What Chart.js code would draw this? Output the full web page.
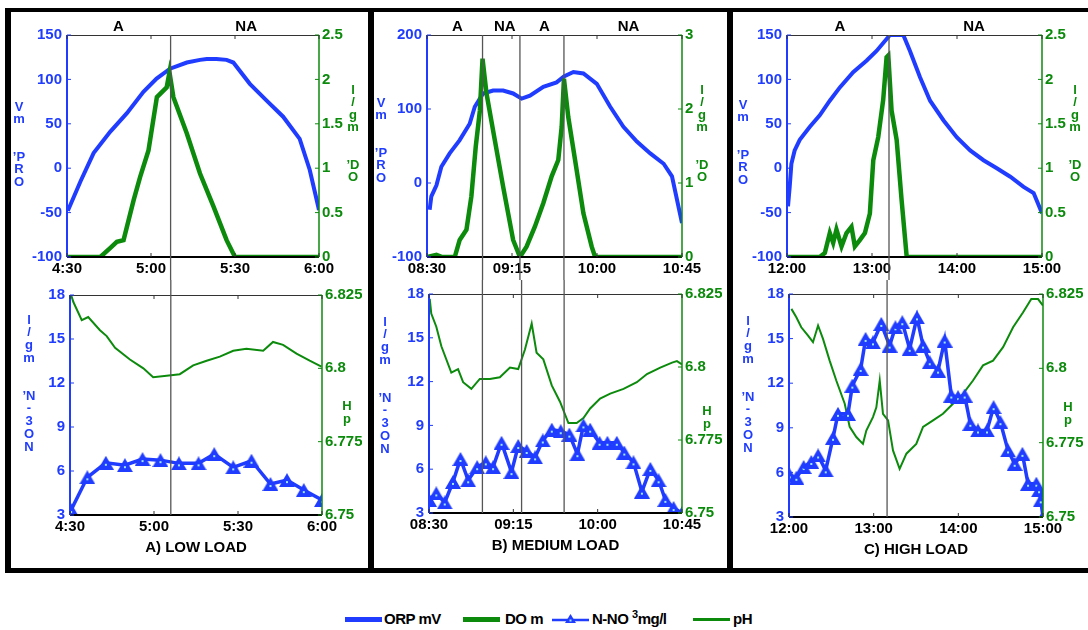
<!DOCTYPE html>
<html>
<head>
<meta charset="utf-8">
<script src="https://cdn.jsdelivr.net/npm/chart.js@4.4.1/dist/chart.umd.min.js"></script>
<style>
  body { margin: 0; width: 1088px; height: 630px; overflow: hidden; background: #fff; position: relative;
         font-family: "Liberation Sans", Arial, Helvetica, sans-serif; }
  .frame { position: absolute; left: 5px; top: 8px; width: 1100px; height: 565px; box-sizing: border-box;
           border: 6px solid #000; border-top-width: 4px; border-bottom-width: 5px; }
  .divider { position: absolute; top: 8px; width: 6px; height: 565px; background: #000; }
  canvas { position: absolute; }
  .lg { position: absolute; }
  .lgtxt { position: absolute; top: 610px; font-weight: bold; font-size: 15px; line-height: 18px;
           letter-spacing: -0.5px; color: #000; white-space: nowrap; }
  .lgtxt sup { font-size: 11px; vertical-align: 6px; line-height: 0; }
</style>
</head>
<body>
<div class="frame"></div>
<div class="divider" style="left:368px"></div>
<div class="divider" style="left:727px"></div>

<div class="lg" style="left:345px;top:617px;width:37px;height:5px;background:#1f3cff"></div>
<div class="lgtxt" style="left:384px">ORP mV</div>
<div class="lg" style="left:463px;top:617px;width:37px;height:5px;background:#0c8a0c"></div>
<div class="lgtxt" style="left:505px">DO m</div>
<svg class="lg" style="left:552px;top:612px" width="37" height="14">
  <line x1="0" y1="8" x2="37" y2="8" stroke="#1f3cff" stroke-width="2.5"/>
  <polygon points="18.5,2 24,11 13,11" fill="#1f3cff"/>
  <rect x="17.5" y="7.5" width="2" height="2" fill="#9fe8ff"/>
</svg>
<div class="lgtxt" style="left:592px">N-NO <sup>3</sup>mg/l</div>
<div class="lg" style="left:693px;top:618px;width:37px;height:2.5px;background:#0c8a0c"></div>
<div class="lgtxt" style="left:733px">pH</div>

<script>
const FONT = '"Liberation Sans", Arial, Helvetica, sans-serif';
const BLUE = '#1f3cff';
const GREEN = '#0c8a0c';
const YW = 40;

// ---------- axes ----------
const orpTicks = [-100, -50, 0, 50, 100, 150];
const orpTicksB = [-100, 0, 100, 200];
const doTicks = [0, 0.5, 1, 1.5, 2, 2.5];
const doTicksB = [0, 1, 2, 3];
const no3Ticks = [3, 6, 9, 12, 15, 18];
const phTicks = [6.75, 6.775, 6.8, 6.825];

// x in minutes from the start of each cycle
const xTicksA = [0, 30, 60, 90];
const xLabelsA = ['4:30', '5:00', '5:30', '6:00'];
const xTicksB = [0, 45, 90, 135];
const xLabelsB = ['08:30', '09:15', '10:00', '10:45'];
const xTicksC = [0, 60, 120, 180];
const xLabelsC = ['12:00', '13:00', '14:00', '15:00'];

// aerobic / non-aerobic phases
const phaseTextA = ['A', 'NA'];
const phaseTextPosA = [18.4, 64];
const phaseLinesA = [37];
const phaseLinesA2 = [36];
const phaseTextB = ['A', 'NA', 'A', 'NA'];
const phaseTextPosB = [16.1, 41.2, 62.1, 106.7];
const phaseLinesB = [29.4, 49.2, 72.5];
const phaseLinesB2 = [28.5, 49.4, 72.1];
const phaseTextC = ['A', 'NA'];
const phaseTextPosC = [37.3, 132];
const phaseLinesC = [72];
const phaseLinesC2 = [69.5];

// ---------- A) low load ----------
const orpA_t = [0.3, 4.8, 9.5, 15.4, 21.4, 27.3, 32, 36.8, 42.8, 47.5, 49.9, 53.4, 57, 59.4, 65.3, 71.3, 77.2, 83.1, 86.7, 90];
const orpA_v = [-48, -15, 17, 41, 62, 86, 101, 112, 119, 122, 123, 123, 122, 119, 95, 76, 58, 33, -2, -47];
const doA_t = [0, 11.9, 15.4, 17.8, 20.2, 23.8, 26.1, 29.1, 32.1, 35.6, 36.6, 38, 42.8, 47.5, 52.3, 57, 60, 90];
const doA_v = [0, 0, 0.1, 0.17, 0.19, 0.64, 0.9, 1.2, 1.8, 1.91, 2.08, 1.8, 1.39, 0.94, 0.57, 0.19, 0, 0];
const phA_t = [0.4, 1.2, 4.2, 6.5, 10.7, 13.1, 16.1, 21.4, 26.2, 29.7, 34.5, 39.2, 44, 48.8, 53.5, 58.3, 63, 69, 72.5, 76.1, 80.9, 85.6, 89.8];
const phA_v = [6.825, 6.8226, 6.8164, 6.8175, 6.813, 6.811, 6.807, 6.803, 6.8, 6.797, 6.7975, 6.798, 6.801, 6.8026, 6.804, 6.806, 6.8067, 6.806, 6.809, 6.808, 6.805, 6.8026, 6.8006];
const no3A_t = [0.4, 6.2, 12.8, 19.6, 25.9, 32.3, 38.9, 45.9, 51.5, 58.3, 64.8, 71.6, 77.5, 83.5, 90];
const no3A_v = [3.34, 5.57, 6.56, 6.4, 6.81, 6.74, 6.52, 6.52, 7.15, 6.25, 6.7, 5.11, 5.38, 4.7, 4.02];

// ---------- B) medium load ----------
const orpB_t = [1.4, 2.3, 5, 7.6, 12, 17.3, 22.6, 25.3, 29.7, 35, 40.3, 45.6, 50.1, 54.5, 61.6, 68.6, 72.5, 77.5, 82.8, 89.9, 97, 104, 111.1, 118.2, 125.3, 129.7, 135];
const orpB_v = [-36, -18, -3, 22, 40, 58, 80, 103, 121, 125, 125, 121, 114, 118, 130, 136, 144, 150, 148, 134, 103, 76, 56, 40, 26, 9, -54];
const doB_t = [0, 5, 8, 14.7, 17.3, 20.9, 23.5, 25.8, 28, 29.4, 31.5, 35.9, 40.3, 45.6, 49.2, 52.7, 57.1, 61.6, 66, 69.5, 71.3, 72.5, 74.8, 78.4, 82.8, 87.2, 89, 135];
const doB_v = [0, 0.03, 0, 0, 0.23, 0.37, 0.82, 1.49, 1.98, 2.68, 2.21, 1.58, 0.95, 0.23, 0, 0.14, 0.41, 0.73, 1.09, 1.31, 1.76, 2.41, 1.89, 1.31, 0.59, 0.14, 0, 0];
const phB_t = [0.4, 1.2, 3.9, 6.6, 11.9, 15.5, 18.2, 22.6, 27.1, 32.5, 37.8, 43.2, 47.6, 51.2, 54.8, 57.4, 61, 65.5, 69.9, 74.4, 78.8, 82.4, 86, 91.3, 96.7, 103.8, 110.9, 116.3, 123.4, 129.7, 132.3, 135];
const phB_v = [6.8233, 6.8183, 6.8138, 6.8071, 6.7981, 6.7993, 6.7948, 6.7925, 6.7959, 6.7959, 6.7965, 6.7998, 6.7993, 6.806, 6.8149, 6.8049, 6.8026, 6.7937, 6.7881, 6.7808, 6.7808, 6.7825, 6.7858, 6.7892, 6.7909, 6.7925, 6.7948, 6.7976, 6.7998, 6.8015, 6.802, 6.8009];
const no3B_t = [0, 3.9, 8.4, 12.8, 16.8, 20.9, 25.7, 30.3, 34.2, 38.7, 44, 47.6, 52.1, 56.6, 60.7, 65.5, 70.3, 74.9, 79.2, 82.4, 86, 91, 95.2, 100.2, 104.2, 109.1, 113.6, 118.1, 122.5, 126.1, 130.5, 135];
const no3B_v = [3.9, 4.34, 3.72, 5.13, 6.7, 5.24, 6.14, 6.47, 6.14, 7.81, 5.8, 7.59, 7.25, 6.81, 7.97, 8.71, 8.6, 8.37, 7.03, 9.0, 8.71, 7.81, 7.81, 7.81, 7.14, 6.47, 4.46, 6.02, 5.24, 3.9, 3.34, 3.0];

// ---------- C) high load ----------
const orpC_t = [0.7, 1.9, 3.1, 5.4, 9, 16, 23.1, 30.2, 37.3, 46.7, 56.1, 63.2, 70.3, 72.7, 82.1, 86.8, 93.9, 101, 110.4, 119.8, 129.3, 138.7, 148.1, 157.6, 167, 174.1, 180];
const orpC_v = [-43, -21, 5, 20, 32, 46.5, 59.6, 76, 91, 108, 121, 132, 145.5, 150, 150, 132, 102.5, 76, 54, 35, 20, 9, 0, -9.6, -21, -28, -50.7];
const doC_t = [0, 23.1, 26.7, 30.2, 32.6, 34.9, 38.5, 42, 45.5, 47.9, 51.4, 55, 58.5, 60.9, 64.4, 67.9, 70.3, 71.5, 73.8, 77.4, 80.9, 84.5, 180];
const doC_v = [0, 0, 0.045, 0.27, 0.16, 0.31, 0.12, 0.27, 0.34, 0.12, 0.19, 0.27, 0.49, 1.09, 1.35, 1.77, 2.25, 2.27, 1.65, 1.32, 0.64, 0, 0];
const phC_t = [1.7, 5.2, 8.7, 13.5, 17, 20.6, 24.1, 28.8, 33.5, 39.5, 43, 47.7, 52.4, 54.8, 59.5, 61.9, 64.3, 66.6, 70.2, 73.7, 78.4, 83.2, 90.2, 95, 102.1, 109.1, 116.2, 123.3, 130.4, 137.5, 144.6, 151.7, 158.8, 165.8, 171.7, 176.5, 180];
const phC_v = [6.82, 6.8172, 6.8138, 6.811, 6.8088, 6.8144, 6.8099, 6.8026, 6.7959, 6.7881, 6.7803, 6.7769, 6.7746, 6.7791, 6.7836, 6.7869, 6.7959, 6.7847, 6.7825, 6.7724, 6.7662, 6.7713, 6.7746, 6.7803, 6.7825, 6.7847, 6.7881, 6.7914, 6.7959, 6.801, 6.8026, 6.8071, 6.8138, 6.8188, 6.8233, 6.8233, 6.8211];
const no3C_t = [0.5, 5.2, 10.4, 15.8, 20.6, 26, 31.2, 34.7, 41.8, 44.9, 50.8, 54.3, 59.5, 65.4, 71.3, 75.4, 80.3, 85.5, 90.7, 95, 99.7, 105.6, 110.3, 115, 119.8, 124.5, 128.5, 133.9, 140.3, 145, 149.8, 155.2, 159.9, 165.4, 169.4, 175.3, 177.2, 178.4, 180];
const no3C_v = [5.8, 5.64, 6.36, 6.7, 7.14, 6.14, 8.33, 9.94, 9.94, 11.84, 12.96, 14.98, 14.75, 15.99, 14.53, 15.76, 16.1, 14.31, 16.43, 14.53, 13.41, 12.85, 14.87, 11.17, 11.06, 11.17, 9.27, 8.82, 8.82, 10.39, 9.38, 7.48, 6.58, 7.25, 5.24, 5.24, 4.8, 4.12, 3.0];

// stacked axis titles, as the original export drew them
const ORP_LINES = ['V', 'm', '', '', '\u2019P', 'R', 'O'];
const DO_LINES = ['l', '/', 'g', 'm', '', '', '\u2019D', 'O'];
const NO3_LINES = ['l', '/', 'g', 'm', '', '', '\u2019N', '-', '3', 'O', 'N'];
const PH_LINES = ['H', 'p'];

const zip = (t, v) => t.map((x, i) => ({ x, y: v[i] }));

// filled triangle marker with the little light dot in the middle
const tri = document.createElement('canvas');
tri.width = 16; tri.height = 14;
(() => {
  const c = tri.getContext('2d');
  c.fillStyle = BLUE;
  c.beginPath(); c.moveTo(8, 0); c.lineTo(16, 14); c.lineTo(0, 14); c.closePath(); c.fill();
  c.fillStyle = '#9fe8ff';
  c.fillRect(7, 8, 2, 2);
})();

const drawStack = (ctx, lines, x, y0, lh, color) => {
  ctx.fillStyle = color;
  ctx.font = 'bold 13px ' + FONT;
  ctx.textAlign = 'center';
  ctx.textBaseline = 'middle';
  lines.forEach((s, i) => { if (s) ctx.fillText(s, x, y0 + i * lh); });
};

const extras = {
  id: 'extras',
  afterDraw(chart, args, o) {
    const { ctx, chartArea: a, scales } = chart;
    const x = scales.x, yl = scales.y, yr = scales.y1;
    ctx.save();

    // frame
    ctx.lineWidth = 1;
    ctx.strokeStyle = '#333';
    ctx.beginPath(); ctx.moveTo(a.left, a.top + 0.5); ctx.lineTo(a.right, a.top + 0.5); ctx.stroke();
    ctx.lineWidth = 2;
    ctx.strokeStyle = '#000';
    ctx.beginPath(); ctx.moveTo(a.left, a.bottom); ctx.lineTo(a.right, a.bottom); ctx.stroke();
    ctx.strokeStyle = BLUE;
    ctx.beginPath(); ctx.moveTo(a.left, a.top); ctx.lineTo(a.left, a.bottom); ctx.stroke();
    ctx.strokeStyle = GREEN;
    ctx.lineWidth = 1.5;
    ctx.beginPath(); ctx.moveTo(a.right, a.top); ctx.lineTo(a.right, a.bottom); ctx.stroke();

    // small inward ticks
    ctx.lineWidth = 1;
    ctx.strokeStyle = BLUE;
    yl.ticks.forEach(t => {
      const p = yl.getPixelForValue(t.value);
      ctx.beginPath(); ctx.moveTo(a.left, p); ctx.lineTo(a.left + 4, p); ctx.stroke();
    });
    ctx.strokeStyle = GREEN;
    yr.ticks.forEach(t => {
      const p = yr.getPixelForValue(t.value);
      ctx.beginPath(); ctx.moveTo(a.right - 4, p); ctx.lineTo(a.right, p); ctx.stroke();
    });
    ctx.strokeStyle = '#333';
    x.ticks.forEach(t => {
      const p = x.getPixelForValue(t.value);
      ctx.beginPath(); ctx.moveTo(p, a.top); ctx.lineTo(p, a.top + 4); ctx.stroke();
      ctx.beginPath(); ctx.moveTo(p, a.bottom - 4); ctx.lineTo(p, a.bottom); ctx.stroke();
    });

    // phase separators
    ctx.strokeStyle = '#555';
    ctx.lineWidth = 1.3;
    (o.lines || []).forEach(v => {
      const p = x.getPixelForValue(v);
      ctx.beginPath();
      ctx.moveTo(p, o.upper ? a.top : 0);
      ctx.lineTo(p, o.upper ? chart.height : a.bottom);
      ctx.stroke();
    });

    // phase names
    ctx.fillStyle = '#000';
    ctx.font = 'bold 15px ' + FONT;
    ctx.textAlign = 'center';
    ctx.textBaseline = 'middle';
    (o.names || []).forEach((s, i) => ctx.fillText(s, x.getPixelForValue(o.namePos[i]), a.top - 8));

    if (o.caption) ctx.fillText(o.caption, (a.left + a.right) / 2, a.bottom + 33);

    // axis titles
    const L = o.leftTitle, R = o.rightTitle;
    drawStack(ctx, L.lines, a.left - L.dx, a.top + L.y0, L.lh, BLUE);
    drawStack(ctx, R.lines, a.right + R.dx, a.top + R.y0, R.lh, GREEN);
    ctx.restore();
  }
};
Chart.register(extras);

const tickFont = { family: FONT, weight: 'bold', size: 15 };

const yAxis = (pos, min, max, values, color) => ({
  type: 'linear', position: pos, min, max,
  afterBuildTicks: s => { s.ticks = values.map(v => ({ value: v })); },
  afterFit: s => { s.width = YW; },
  grid: { display: false, drawTicks: false },
  border: { display: false },
  ticks: { color, font: tickFont, padding: pos === 'left' ? 5 : 3, autoSkip: false, callback: v => String(v) }
});

const makeChart = (box, area, datasets, xTicks, xLabels, y, y1, extra) => {
  const cv = document.createElement('canvas');
  cv.width = box.w; cv.height = box.h;
  cv.style.left = box.x + 'px'; cv.style.top = box.y + 'px';
  cv.style.width = box.w + 'px'; cv.style.height = box.h + 'px';
  document.body.appendChild(cv);
  const xMax = xTicks[xTicks.length - 1];
  return new Chart(cv, {
    type: 'line',
    data: { datasets },
    options: {
      responsive: false,
      animation: false,
      devicePixelRatio: 1,
      layout: {
        padding: {
          left: area.l - box.x - YW,
          right: box.x + box.w - area.r - YW,
          top: area.t - box.y,
          bottom: 0
        }
      },
      plugins: { legend: { display: false }, tooltip: { enabled: false }, extras: extra },
      scales: {
        x: {
          type: 'linear', min: 0, max: xMax,
          afterBuildTicks: s => { s.ticks = xTicks.map(v => ({ value: v })); },
          afterFit: s => { s.height = box.y + box.h - area.b; },
          grid: { display: false, drawTicks: false },
          border: { display: false },
          ticks: { color: '#000', font: tickFont, padding: 3, autoSkip: false, maxRotation: 0,
                   callback: (v, i) => xLabels[i] }
        },
        y, y1
      }
    }
  });
};

const orpSet = (t, v) => ({ data: zip(t, v), borderColor: BLUE, borderWidth: 4, pointRadius: 0, yAxisID: 'y', order: 2 });
const doSet = (t, v) => ({ data: zip(t, v), borderColor: GREEN, borderWidth: 4.5, pointRadius: 0, yAxisID: 'y1', order: 1 });
const no3Set = (t, v) => ({ data: zip(t, v), borderColor: BLUE, backgroundColor: BLUE, borderWidth: 3.5,
  pointStyle: tri, pointRadius: 8, yAxisID: 'y', order: 1 });
const phSet = (t, v) => ({ data: zip(t, v), borderColor: GREEN, borderWidth: 2, pointRadius: 0, yAxisID: 'y1', order: 2 });

const topTitles = (ldx, ly0, rdx) => ({
  leftTitle: { lines: ORP_LINES, dx: ldx, y0: ly0, lh: 12.5 },
  rightTitle: { lines: DO_LINES, dx: rdx, y0: 55, lh: 12.5 }
});
const botTitles = (ldx, ly0, ry0) => ({
  leftTitle: { lines: NO3_LINES, dx: ldx, y0: ly0, lh: 12.7 },
  rightTitle: { lines: PH_LINES, dx: 25, y0: ry0, lh: 13 }
});

// A
makeChart({ x: 11, y: 12, w: 357, h: 268 }, { l: 67, t: 35, r: 319, b: 257 },
  [orpSet(orpA_t, orpA_v), doSet(doA_t, doA_v)], xTicksA, xLabelsA,
  yAxis('left', -100, 150, orpTicks, BLUE), yAxis('right', 0, 2.5, doTicks, GREEN),
  { upper: true, lines: phaseLinesA, names: phaseTextA, namePos: phaseTextPosA, ...topTitles(48, 72, 34) });
makeChart({ x: 11, y: 280, w: 357, h: 288 }, { l: 70, t: 295, r: 322, b: 515 },
  [no3Set(no3A_t, no3A_v), phSet(phA_t, phA_v)], xTicksA, xLabelsA,
  yAxis('left', 3, 18, no3Ticks, BLUE), yAxis('right', 6.75, 6.825, phTicks, GREEN),
  { upper: false, lines: phaseLinesA2, caption: 'A) LOW LOAD', ...botTitles(41, 25, 111) });

// B
makeChart({ x: 374, y: 12, w: 353, h: 268 }, { l: 427, t: 35, r: 682, b: 257 },
  [orpSet(orpB_t, orpB_v), doSet(doB_t, doB_v)], xTicksB, xLabelsB,
  yAxis('left', -100, 200, orpTicksB, BLUE), yAxis('right', 0, 3, doTicksB, GREEN),
  { upper: true, lines: phaseLinesB, names: phaseTextB, namePos: phaseTextPosB, ...topTitles(46, 68, 20) });
makeChart({ x: 374, y: 280, w: 353, h: 288 }, { l: 429, t: 290, r: 682, b: 513 },
  [no3Set(no3B_t, no3B_v), phSet(phB_t, phB_v)], xTicksB, xLabelsB,
  yAxis('left', 3, 18, no3Ticks, BLUE), yAxis('right', 6.75, 6.825, phTicks, GREEN),
  { upper: false, lines: phaseLinesB2, caption: 'B) MEDIUM LOAD', ...botTitles(44, 28, 117) });

// C
makeChart({ x: 733, y: 12, w: 355, h: 268 }, { l: 787, t: 35, r: 1042, b: 257 },
  [orpSet(orpC_t, orpC_v), doSet(doC_t, doC_v)], xTicksC, xLabelsC,
  yAxis('left', -100, 150, orpTicks, BLUE), yAxis('right', 0, 2.5, doTicks, GREEN),
  { upper: true, lines: phaseLinesC, names: phaseTextC, namePos: phaseTextPosC, ...topTitles(44, 70, 33) });
makeChart({ x: 733, y: 280, w: 355, h: 288 }, { l: 789, t: 293, r: 1043, b: 517 },
  [no3Set(no3C_t, no3C_v), phSet(phC_t, phC_v)], xTicksC, xLabelsC,
  yAxis('left', 3, 18, no3Ticks, BLUE), yAxis('right', 6.75, 6.825, phTicks, GREEN),
  { upper: false, lines: phaseLinesC2, caption: 'C) HIGH LOAD', ...botTitles(41, 27, 113) });
</script>
</body>
</html>
